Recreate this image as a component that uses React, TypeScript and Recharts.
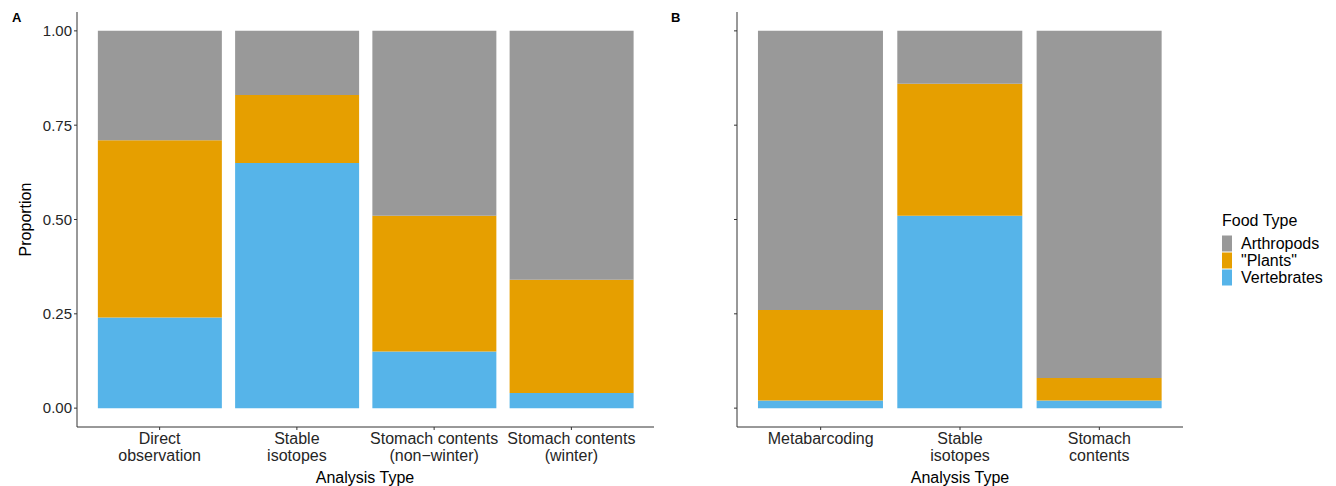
import React from "react";
import { BarChart, Bar, XAxis, YAxis } from "recharts";

const categoriesA = ["Direct\nobservation", "Stable\nisotopes", "Stomach contents\n(non\u2212winter)", "Stomach contents\n(winter)"];
const vertebratesA = [0.24, 0.65, 0.15, 0.04];
const plantsA = [0.47, 0.18, 0.36, 0.30];
const arthropodsA = [0.29, 0.17, 0.49, 0.66];

const categoriesB = ["Metabarcoding", "Stable\nisotopes", "Stomach\ncontents"];
const vertebratesB = [0.02, 0.51, 0.02];
const plantsB = [0.24, 0.35, 0.06];
const arthropodsB = [0.74, 0.14, 0.92];

const yTicks = [0, 0.25, 0.5, 0.75, 1];
const legendItems = ["Arthropods", "\"Plants\"", "Vertebrates"];
const COLORS: Record<string, string> = { Arthropods: "#999999", "\"Plants\"": "#E69F00", Vertebrates: "#56B4E9" };

const FONT = "'Liberation Sans', Arial, sans-serif";
const AXIS = "#333333";
const TEXT = "#262626";

const build = (cats: string[], v: number[], p: number[], a: number[]) =>
  cats.map((c, i) => ({ cat: c, Vertebrates: v[i], Plants: p[i], Arthropods: a[i] }));

const dataA = build(categoriesA, vertebratesA, plantsA, arthropodsA);
const dataB = build(categoriesB, vertebratesB, plantsB, arthropodsB);

const XTick = (props: any) => {
  const { x, y, payload } = props;
  const lines = String(payload.value).split("\n");
  return (
    <text x={x} y={y + 12} textAnchor="middle" fontFamily={FONT} fontSize={16} fill={TEXT}>
      {lines.map((l, i) => (
        <tspan key={i} x={x} dy={i === 0 ? 0 : 17}>{l}</tspan>
      ))}
    </text>
  );
};

const Panel = ({ data, width, padding, showLabels }: { data: any[]; width: number; padding: number; showLabels: boolean }) => (
  <BarChart width={width} height={486} data={data} margin={{ top: 12, right: 6, left: 0, bottom: 0 }} barCategoryGap="5%">
    <XAxis
      dataKey="cat"
      height={59}
      padding={{ left: padding, right: padding }}
      tick={<XTick />}
      tickSize={3}
      tickLine={{ stroke: AXIS }}
      axisLine={{ stroke: AXIS }}
      interval={0}
    />
    <YAxis
      type="number"
      width={77}
      domain={[-0.05, 1.05]}
      ticks={yTicks}
      allowDataOverflow
      tickSize={3}
      tickFormatter={(v: number) => (showLabels ? v.toFixed(2) : "")}
      tick={{ fontFamily: FONT, fontSize: 15, fill: TEXT }}
      tickLine={{ stroke: AXIS }}
      axisLine={{ stroke: AXIS }}
    />
    <Bar dataKey="Vertebrates" stackId="s" fill="#56B4E9" isAnimationActive={false} />
    <Bar dataKey="Plants" stackId="s" fill="#E69F00" isAnimationActive={false} />
    <Bar dataKey="Arthropods" stackId="s" fill="#999999" isAnimationActive={false} />
  </BarChart>
);

export default function App() {
  return (
    <div style={{ position: "absolute", left: 0, top: 0, width: 1336, height: 486, background: "#fff" }}>
      <div style={{ position: "absolute", left: 0, top: 0 }}>
        <Panel data={dataA} width={660} padding={14} showLabels={true} />
      </div>
      <div style={{ position: "absolute", left: 660, top: 0 }}>
        <Panel data={dataB} width={529} padding={14} showLabels={false} />
      </div>
      <svg width={1336} height={486} style={{ position: "absolute", left: 0, top: 0, pointerEvents: "none" }}>
        <text x={12} y={22} fontFamily={FONT} fontSize={13} fontWeight="bold" fill="#000">A</text>
        <text x={671} y={22} fontFamily={FONT} fontSize={13} fontWeight="bold" fill="#000">B</text>
        <text x={365} y={483} textAnchor="middle" fontFamily={FONT} fontSize={16} fill="#000">Analysis Type</text>
        <text x={960} y={483} textAnchor="middle" fontFamily={FONT} fontSize={16} fill="#000">Analysis Type</text>
        <text transform="translate(31,219.5) rotate(-90)" textAnchor="middle" fontFamily={FONT} fontSize={16} fill="#000">Proportion</text>
        <text x={1222} y={226} fontFamily={FONT} fontSize={16} fill="#000">Food Type</text>
        {legendItems.map((name, i) => (
          <g key={name}>
            <rect x={1222} y={235.5 + i * 17} width={10} height={16} fill={COLORS[name]} />
            <text x={1241} y={249 + i * 17} fontFamily={FONT} fontSize={16} fill="#000">{name}</text>
          </g>
        ))}
      </svg>
    </div>
  );
}
